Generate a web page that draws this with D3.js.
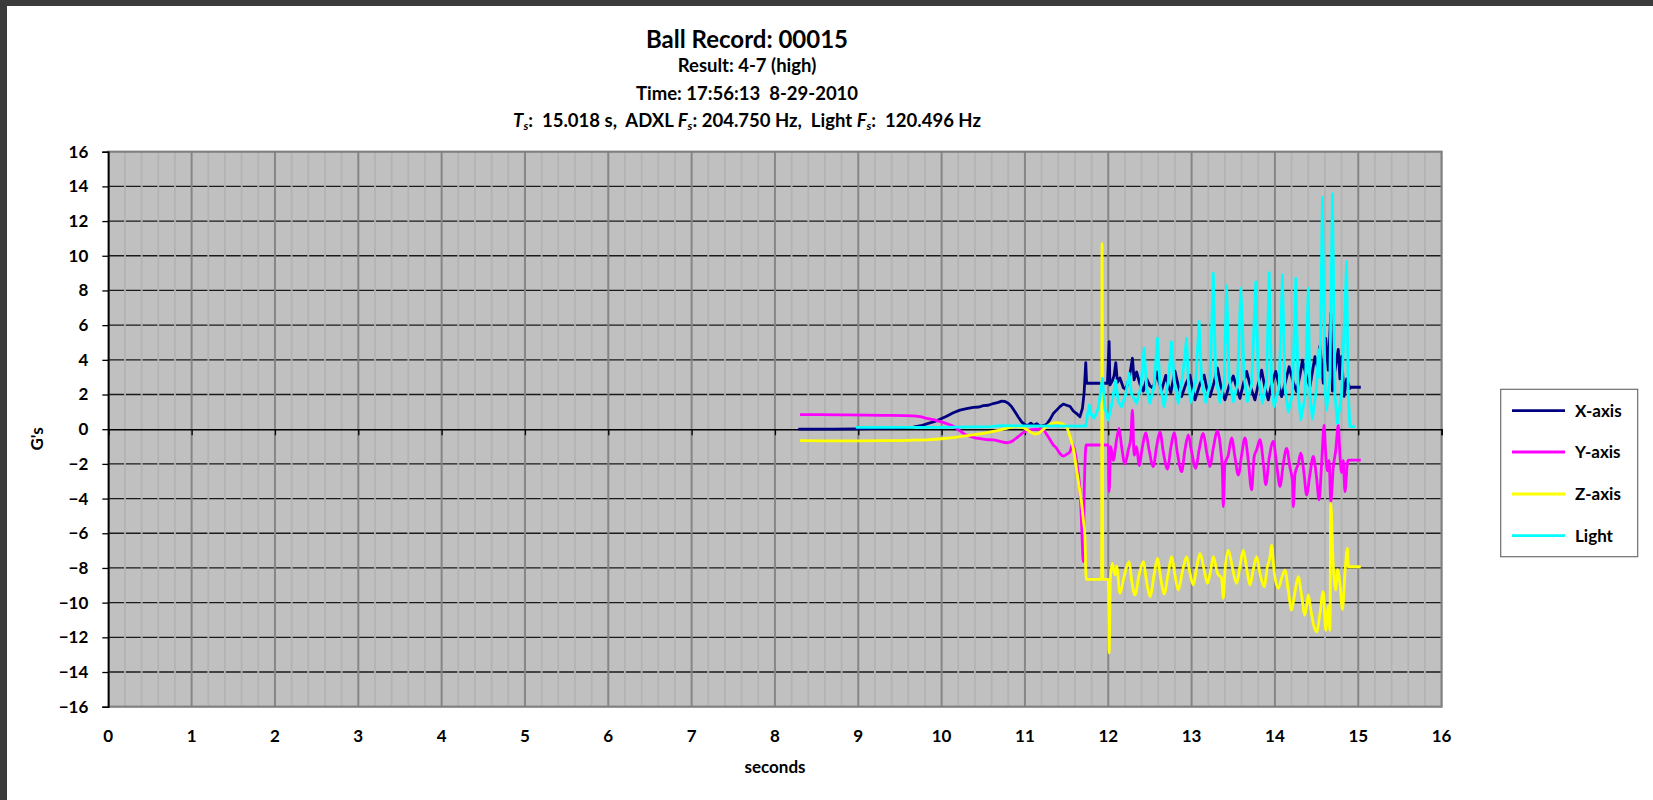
<!DOCTYPE html>
<html>
<head>
<meta charset="utf-8">
<script src="https://cdn.jsdelivr.net/npm/d3@7"></script>
<style>
  html, body { margin: 0; padding: 0; background: #ffffff; }
  svg { display: block; }
  text { font-family: Lato, "Open Sans", sans-serif; font-weight: bold; fill: #000; white-space: pre; }
</style>
</head>
<body>
<svg id="chart" width="1653" height="800"></svg>
<script>
// ---- axis tick labels ----
const xTickValues = [0, 1, 2, 3, 4, 5, 6, 7, 8, 9, 10, 11, 12, 13, 14, 15, 16];
const yTickValues = [16, 14, 12, 10, 8, 6, 4, 2, 0, -2, -4, -6, -8, -10, -12, -14, -16];

// ---- series: [seconds, G's] ----
const xAxisData = [
  [8.28,0.00],[8.70,0.00],[9.00,0.02],[9.30,0.05],[9.55,0.08],[9.66,0.12],[9.75,0.20],[9.85,0.35],
  [9.92,0.45],[9.98,0.57],[10.06,0.75],[10.14,0.95],[10.22,1.10],[10.30,1.18],[10.38,1.26],[10.45,1.28],
  [10.50,1.36],[10.56,1.38],[10.62,1.48],[10.68,1.55],[10.72,1.62],[10.76,1.60],[10.80,1.50],[10.84,1.30],
  [10.88,1.00],[10.92,0.70],[10.96,0.42],[11.00,0.25],[11.04,0.22],[11.07,0.35],[11.10,0.22],[11.14,0.32],
  [11.18,0.18],[11.22,0.20],[11.26,0.28],[11.30,0.55],[11.34,0.90],[11.38,1.10],[11.42,1.30],[11.46,1.45],
  [11.50,1.38],[11.54,1.32],[11.58,1.05],[11.62,0.90],[11.66,0.72],[11.69,1.20],[11.71,2.10],[11.73,3.84],
  [11.74,2.65],[11.99,2.65],[12.01,5.05],[12.02,2.55],[12.05,2.80],[12.07,3.10],[12.09,3.84],[12.11,2.70],
  [12.14,2.95],[12.18,2.40],[12.21,2.30],[12.25,2.90],[12.29,4.09],[12.31,2.85],[12.34,3.30],[12.38,2.60],
  [12.42,2.20],[12.46,2.90],[12.50,2.50],[12.54,2.35],[12.58,3.30],[12.61,2.70],[12.64,2.25],[12.69,3.10],
  [12.72,2.50],[12.75,2.10],[12.80,3.35],[12.84,2.50],[12.88,1.88],[12.93,2.60],[12.98,3.12],[13.01,2.40],
  [13.04,1.69],[13.10,2.60],[13.15,3.12],[13.18,2.40],[13.22,1.88],[13.27,2.70],[13.31,3.52],[13.35,2.50],
  [13.40,1.69],[13.45,2.50],[13.50,3.07],[13.54,2.40],[13.58,1.78],[13.62,2.60],[13.66,3.33],[13.71,2.40],
  [13.76,1.69],[13.80,2.60],[13.84,3.41],[13.88,2.40],[13.92,1.69],[13.96,2.60],[14.01,3.33],[14.05,2.50],
  [14.08,1.88],[14.13,2.80],[14.17,3.60],[14.22,2.70],[14.26,2.17],[14.30,3.10],[14.33,3.98],[14.38,3.00],
  [14.42,2.46],[14.48,4.18],[14.52,3.40],[14.54,4.80],[14.58,2.65],[14.61,5.24],[14.64,3.40],[14.67,6.68],
  [14.69,2.20],[14.72,3.40],[14.76,4.60],[14.78,2.90],[14.80,4.20],[14.83,1.90],[14.86,2.90],[14.90,2.35],
  [14.91,2.42],[15.03,2.42]
];

const yAxisData = [
  [8.30,0.84],[8.80,0.83],[9.30,0.80],[9.66,0.77],[9.74,0.72],[9.82,0.63],[9.90,0.55],[9.98,0.45],
  [10.06,0.32],[10.14,0.17],[10.20,-0.02],[10.26,-0.24],[10.32,-0.38],[10.38,-0.47],[10.46,-0.55],[10.54,-0.60],
  [10.62,-0.62],[10.70,-0.70],[10.78,-0.78],[10.82,-0.75],[10.86,-0.65],[10.90,-0.50],[10.94,-0.35],[10.98,-0.20],
  [11.02,-0.10],[11.08,-0.02],[11.14,0.00],[11.22,-0.05],[11.26,-0.30],[11.30,-0.60],[11.34,-0.90],[11.38,-1.10],
  [11.42,-1.40],[11.46,-1.55],[11.50,-1.45],[11.54,-1.30],[11.57,-0.85],[11.60,-1.30],[11.63,-2.20],[11.66,-3.50],
  [11.68,-5.50],[11.70,-7.64],[11.71,-4.00],[11.735,-0.91],[12.00,-0.91],[12.01,-3.60],[12.03,-1.00],[12.06,-1.80],
  [12.10,-0.60],[12.13,0.05],[12.16,-1.00],[12.20,-2.00],[12.24,-1.20],[12.27,-0.50],[12.29,1.10],[12.31,-1.50],
  [12.34,-1.00],[12.37,-2.10],[12.41,-1.00],[12.45,-0.20],[12.49,-1.20],[12.54,-2.16],[12.58,-1.00],[12.62,-0.15],
  [12.66,-1.30],[12.71,-2.30],[12.75,-1.10],[12.79,-0.20],[12.83,-1.40],[12.88,-2.45],[12.92,-1.20],[12.96,-0.33],
  [13.00,-1.30],[13.05,-2.26],[13.09,-1.20],[13.14,-0.24],[13.18,-1.30],[13.22,-2.16],[13.26,-1.10],[13.31,-0.10],
  [13.35,-1.20],[13.37,-2.50],[13.38,-4.47],[13.40,-2.00],[13.44,-1.50],[13.48,-0.50],[13.52,-1.60],[13.56,-2.64],
  [13.60,-1.50],[13.64,-0.50],[13.68,-1.80],[13.72,-3.50],[13.75,-1.60],[13.78,-1.20],[13.82,-0.60],[13.86,-1.90],
  [13.89,-3.20],[13.93,-1.70],[13.98,-0.70],[14.02,-2.00],[14.06,-3.30],[14.10,-2.00],[14.14,-1.10],[14.18,-2.20],
  [14.21,-3.00],[14.22,-4.47],[14.24,-2.60],[14.28,-2.00],[14.31,-1.38],[14.35,-2.60],[14.38,-3.80],[14.42,-2.60],
  [14.46,-1.57],[14.50,-2.80],[14.53,-4.08],[14.56,-2.00],[14.59,0.24],[14.61,-1.50],[14.63,-2.40],[14.65,-1.80],
  [14.67,-4.18],[14.70,-2.20],[14.73,-1.20],[14.76,0.24],[14.78,-1.50],[14.80,-2.50],[14.82,-1.80],[14.84,-3.60],
  [14.87,-1.95],[14.88,-1.78],[15.03,-1.78]
];

const zAxisData = [
  [8.30,-0.66],[8.80,-0.67],[9.30,-0.66],[9.60,-0.64],[9.86,-0.60],[10.00,-0.55],[10.14,-0.48],[10.26,-0.40],
  [10.38,-0.33],[10.50,-0.24],[10.62,-0.13],[10.72,-0.02],[10.80,0.07],[10.88,0.15],[10.94,0.14],[10.98,0.08],
  [11.04,-0.08],[11.08,-0.20],[11.12,-0.28],[11.16,-0.24],[11.20,-0.10],[11.26,0.15],[11.32,0.32],[11.38,0.38],
  [11.44,0.32],[11.50,0.12],[11.54,-0.43],[11.58,-1.10],[11.62,-2.35],[11.65,-3.30],[11.68,-4.27],[11.70,-5.20],
  [11.72,-6.20],[11.735,-8.66],[11.92,-8.66],[11.925,10.72],[11.935,-8.66],[12.00,-8.66],[12.01,-12.90],[12.025,-8.60],
  [12.05,-7.74],[12.08,-8.40],[12.10,-7.90],[12.14,-9.47],[12.19,-8.50],[12.25,-7.64],[12.28,-8.70],[12.32,-9.56],
  [12.37,-8.40],[12.42,-7.64],[12.46,-8.80],[12.50,-9.66],[12.55,-8.40],[12.59,-7.45],[12.63,-8.60],[12.67,-9.50],
  [12.72,-8.30],[12.76,-7.35],[12.80,-8.40],[12.84,-9.27],[12.89,-8.20],[12.94,-7.35],[12.98,-8.30],[13.02,-8.98],
  [13.06,-8.00],[13.10,-7.16],[13.15,-8.10],[13.19,-8.89],[13.23,-8.10],[13.26,-7.35],[13.31,-8.30],[13.36,-8.60],
  [13.38,-9.75],[13.40,-8.20],[13.44,-6.97],[13.49,-8.00],[13.54,-8.89],[13.58,-7.90],[13.62,-6.97],[13.66,-8.00],
  [13.70,-8.98],[13.74,-8.10],[13.78,-7.35],[13.82,-8.30],[13.87,-9.08],[13.91,-7.90],[13.94,-7.40],[13.96,-6.68],
  [13.99,-8.20],[14.04,-9.17],[14.08,-8.60],[14.12,-8.12],[14.16,-9.30],[14.20,-10.43],[14.24,-9.40],[14.28,-8.50],
  [14.32,-9.60],[14.36,-10.72],[14.40,-9.56],[14.43,-10.40],[14.46,-11.20],[14.50,-11.68],[14.54,-10.62],[14.58,-9.36],
  [14.61,-11.60],[14.64,-10.20],[14.66,-11.60],[14.67,-4.27],[14.70,-7.90],[14.73,-9.27],[14.75,-8.10],[14.78,-8.90],
  [14.81,-10.40],[14.84,-8.30],[14.87,-6.87],[14.88,-7.93],[15.03,-7.93]
];

const lightData = [
  [8.97,0.10],[10.00,0.10],[10.60,0.15],[10.70,0.20],[11.73,0.18],[11.75,0.80],[11.77,1.40],[11.80,0.80],
  [11.83,0.63],[11.88,1.20],[11.93,2.93],[11.96,1.20],[12.00,0.53],[12.04,1.40],[12.09,2.80],[12.12,1.60],
  [12.16,1.30],[12.21,2.00],[12.25,3.22],[12.28,2.00],[12.34,1.50],[12.39,2.40],[12.43,4.67],[12.46,2.40],
  [12.50,1.50],[12.55,2.50],[12.59,5.24],[12.62,2.60],[12.67,1.30],[12.72,2.80],[12.76,5.05],[12.79,2.80],
  [12.84,1.50],[12.89,3.00],[12.94,5.24],[12.96,2.80],[12.99,1.55],[13.05,2.80],[13.09,6.20],[13.12,2.80],
  [13.17,1.55],[13.22,2.60],[13.26,8.99],[13.29,3.00],[13.34,1.55],[13.39,2.60],[13.42,8.26],[13.45,3.00],
  [13.50,1.60],[13.55,2.60],[13.59,8.12],[13.61,6.10],[13.63,3.00],[13.67,1.60],[13.72,2.60],[13.77,8.50],
  [13.80,3.00],[13.85,1.50],[13.90,2.80],[13.93,9.03],[13.96,2.60],[13.99,1.30],[14.05,2.40],[14.09,8.90],
  [14.12,2.40],[14.16,1.00],[14.21,2.00],[14.25,8.70],[14.28,2.00],[14.31,0.55],[14.36,1.80],[14.40,8.12],
  [14.42,2.00],[14.45,0.60],[14.50,2.40],[14.52,4.57],[14.54,3.00],[14.57,13.37],[14.60,2.50],[14.62,1.10],
  [14.66,3.00],[14.69,13.56],[14.72,2.00],[14.75,0.34],[14.80,2.00],[14.86,9.66],[14.88,2.00],[14.90,0.15],
  [14.96,0.15]
];

const seriesNames = ["X-axis", "Y-axis", "Z-axis", "Light"];
const seriesColors = ["#000080", "#FF00FF", "#FFFF00", "#00FFFF"];
const seriesData = [xAxisData, yAxisData, zAxisData, lightData];
// accelerometer Y/Z traces are drawn with a gentle monotone curve, the others straight
const seriesCurves = [d3.curveLinear, d3.curveMonotoneX, d3.curveMonotoneX, d3.curveLinear];

// ---- layout ----
const svg = d3.select("#chart");
const W = 1653, H = 800;
const plot = { left: 108.3, right: 1441.6, top: 151.7, bottom: 706.7 };

const x = d3.scaleLinear().domain([0, 16]).range([plot.left, plot.right]);
const y = d3.scaleLinear().domain([-16, 16]).range([plot.bottom, plot.top]);

// window frame
svg.append("rect").attr("x", 0).attr("y", 0).attr("width", W).attr("height", H).attr("fill", "#ffffff");
svg.append("rect").attr("x", 0).attr("y", 0).attr("width", W).attr("height", 6).attr("fill", "#3b3b3b");
svg.append("rect").attr("x", 0).attr("y", 0).attr("width", 7).attr("height", H).attr("fill", "#3b3b3b");

// plot background
svg.append("rect")
  .attr("x", plot.left).attr("y", plot.top)
  .attr("width", plot.right - plot.left).attr("height", plot.bottom - plot.top)
  .attr("fill", "#C0C0C0");

const grid = svg.append("g");
// horizontal major gridlines every 2 G
grid.selectAll("line.h").data(yTickValues.filter(v => v !== 0 && v !== 16 && v !== -16)).join("line")
  .attr("x1", plot.left).attr("x2", plot.right)
  .attr("y1", d => y(d)).attr("y2", d => y(d))
  .attr("stroke", "#1a1a1a").attr("stroke-width", 1.3);
// vertical minor gridlines every 0.2 s
const minorT = d3.range(0, 80).map(i => i / 5).filter((t, i) => i % 5 !== 0);
grid.selectAll("line.vm").data(minorT).join("line")
  .attr("x1", d => x(d)).attr("x2", d => x(d))
  .attr("y1", plot.top).attr("y2", plot.bottom)
  .attr("stroke", "#B3B3B3").attr("stroke-width", 1.8);
// vertical major gridlines every second
grid.selectAll("line.vM").data(xTickValues.slice(1, -1)).join("line")
  .attr("x1", d => x(d)).attr("x2", d => x(d))
  .attr("y1", plot.top).attr("y2", plot.bottom)
  .attr("stroke", "#868686").attr("stroke-width", 2);

// plot border
svg.append("rect")
  .attr("x", plot.left).attr("y", plot.top)
  .attr("width", plot.right - plot.left).attr("height", plot.bottom - plot.top)
  .attr("fill", "none").attr("stroke", "#808080").attr("stroke-width", 2.2);

// y axis (left) with outward ticks
const yAxis = d3.axisLeft(y).tickValues(yTickValues).tickSize(6).tickPadding(14).tickFormat(d3.format("d"));
const gy = svg.append("g").attr("transform", `translate(${plot.left},0)`).call(yAxis);
gy.select(".domain").attr("stroke", "#000").attr("stroke-width", 1.6);
gy.selectAll(".tick line").attr("stroke", "#000").attr("stroke-width", 1.3);
gy.selectAll(".tick text").attr("font-size", 17).attr("font-family", "Lato, sans-serif").attr("font-weight", "bold").attr("fill", "#000");

// x axis line at zero with downward ticks
const xAxis = d3.axisBottom(x).tickValues(xTickValues).tickSize(6).tickFormat("");
const gx = svg.append("g").attr("transform", `translate(0,${y(0)})`).call(xAxis);
gx.select(".domain").attr("stroke", "#000").attr("stroke-width", 1.4);
gx.selectAll(".tick line").attr("stroke", "#000").attr("stroke-width", 1.3);

// x tick labels sit below the plot
svg.append("g").selectAll("text").data(xTickValues).join("text")
  .attr("x", d => x(d)).attr("y", 741.5)
  .attr("text-anchor", "middle").attr("font-size", 17)
  .text(d => d);

// series lines
svg.append("g").selectAll("path").data(seriesData).join("path")
  .attr("d", (d, i) => d3.line().x(p => x(p[0])).y(p => y(p[1])).curve(seriesCurves[i])(d))
  .attr("fill", "none")
  .attr("stroke", (d, i) => seriesColors[i])
  .attr("stroke-width", 2.8)
  .attr("stroke-linejoin", "round");

// titles
const titleX = 747;
svg.append("text").attr("x", titleX).attr("y", 47.5).attr("text-anchor", "middle")
  .attr("font-size", 24).text("Ball Record: 00015");
svg.append("text").attr("x", titleX).attr("y", 72).attr("text-anchor", "middle")
  .attr("font-size", 18.5).text("Result: 4-7 (high)");
svg.append("text").attr("x", titleX).attr("y", 99.5).attr("text-anchor", "middle")
  .attr("font-size", 18.5).text("Time: 17:56:13  8-29-2010");
const sub = svg.append("text").attr("x", titleX).attr("y", 127).attr("text-anchor", "middle")
  .attr("font-size", 18.5);
const parts = [
  ["T", "i"], ["s", "s"], [":  15.018 s,  ADXL ", ""], ["F", "i"], ["s", "s"],
  [": 204.750 Hz,  Light ", ""], ["F", "i"], ["s", "s"], [":  120.496 Hz", ""]
];
parts.forEach(([txt, kind]) => {
  const t = sub.append("tspan").text(txt);
  if (kind === "i") t.attr("font-style", "italic");
  if (kind === "s") t.attr("font-style", "italic").attr("font-size", 12).attr("baseline-shift", "-25%");
});

// axis titles
svg.append("text").attr("transform", "translate(43,439) rotate(-90)")
  .attr("text-anchor", "middle").attr("font-size", 17).text("G's");
svg.append("text").attr("x", 775).attr("y", 773)
  .attr("text-anchor", "middle").attr("font-size", 17).text("seconds");

// legend
const legend = svg.append("g");
legend.append("rect").attr("x", 1500.7).attr("y", 389.3).attr("width", 137).attr("height", 167.4)
  .attr("fill", "#ffffff").attr("stroke", "#6e6e6e").attr("stroke-width", 1.2);
const legendRows = [410.7, 452, 494, 535.7];
const items = legend.selectAll("g.item").data(seriesNames).join("g")
  .attr("transform", (d, i) => `translate(0,${legendRows[i]})`);
items.append("line").attr("x1", 1512).attr("x2", 1565).attr("y1", 0).attr("y2", 0)
  .attr("stroke", (d, i) => seriesColors[i]).attr("stroke-width", 2.8);
items.append("text").attr("x", 1575).attr("y", 6).attr("font-size", 17).text(d => d);
</script>
</body>
</html>
